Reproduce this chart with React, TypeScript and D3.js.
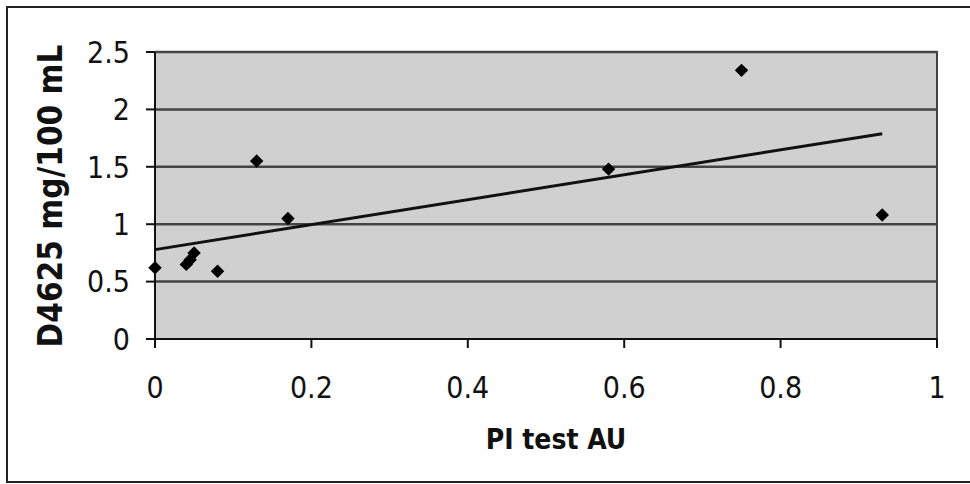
import React from "react";
import * as d3 from "d3";

const xValues = [0, 0.04, 0.045, 0.05, 0.08, 0.13, 0.17, 0.58, 0.75, 0.93];
const yValues = [0.62, 0.65, 0.69, 0.75, 0.59, 1.55, 1.05, 1.48, 2.34, 1.08];
const xTicks = [0, 0.2, 0.4, 0.6, 0.8, 1];
const yTicks = [0, 0.5, 1, 1.5, 2, 2.5];
const xTitle = "PI test AU";
const yTitle = "D4625 mg/100 mL";

const W = 970;
const H = 484;
const left = 155;
const right = 937;
const top = 52;
const bottom = 339;
const FONT = "'DejaVu Sans Condensed', 'DejaVu Sans', sans-serif";

export default function App() {
  const x = d3.scaleLinear().domain([0, 1]).range([left, right]);
  const y = d3.scaleLinear().domain([0, 2.5]).range([bottom, top]);

  const mx = d3.mean(xValues) as number;
  const my = d3.mean(yValues) as number;
  const sxy = d3.sum(xValues.map((v, i) => (v - mx) * (yValues[i] - my)));
  const sxx = d3.sum(xValues.map((v) => (v - mx) * (v - mx)));
  const slope = sxy / sxx;
  const intercept = my - slope * mx;
  const [x0, x1] = d3.extent(xValues) as [number, number];
  const line = d3.line<number>().x((d) => x(d)).y((d) => y(intercept + slope * d));
  const diamond = d3.symbol().type(d3.symbolDiamond2).size(115)();

  return (
    <svg width={W} height={H} style={{ position: "absolute", left: 0, top: 0 }}>
      <rect x={0} y={0} width={W} height={H} fill="#fff" />
      <rect x={7} y={7} width={W + 20} height={475} fill="none" stroke="#222" strokeWidth={2} />
      <rect x={left} y={top} width={right - left} height={bottom - top} fill="#d0d0d0" stroke="#444" strokeWidth={2} />
      {yTicks.slice(1).map((t) => (
        <line key={"g" + t} x1={left} x2={right} y1={y(t)} y2={y(t)} stroke="#444" strokeWidth={2.5} />
      ))}
      <line x1={left} x2={left} y1={top} y2={bottom + 9} stroke="#111" strokeWidth={2} />
      <line x1={left - 9} x2={right} y1={bottom} y2={bottom} stroke="#111" strokeWidth={2} />
      {yTicks.map((t) => (
        <g key={"y" + t}>
          <line x1={left - 9} x2={left} y1={y(t)} y2={y(t)} stroke="#111" strokeWidth={2} />
          <text x={130} y={y(t)} dy="0.36em" textAnchor="end" fontFamily={FONT} fontSize={30} fill="#111">
            {t}
          </text>
        </g>
      ))}
      {xTicks.map((t) => (
        <g key={"x" + t}>
          <line x1={x(t)} x2={x(t)} y1={bottom} y2={bottom + 9} stroke="#111" strokeWidth={2} />
          <text x={x(t)} y={387} dy="0.36em" textAnchor="middle" fontFamily={FONT} fontSize={30} fill="#111">
            {t}
          </text>
        </g>
      ))}
      <path d={line([x0, x1]) || ""} fill="none" stroke="#111" strokeWidth={3} />
      {xValues.map((v, i) => (
        <path key={"p" + i} d={diamond || ""} transform={`translate(${x(v)},${y(yValues[i])})`} fill="#000" />
      ))}
      <text x={556} y={439} dy="0.36em" textAnchor="middle" fontFamily={FONT} fontWeight="bold" fontSize={28} fill="#111">
        {xTitle}
      </text>
      <text
        transform={`translate(50,196) rotate(-90)`}
        dy="0.36em"
        textAnchor="middle"
        fontFamily={FONT}
        fontWeight="bold"
        fontSize={33}
        fill="#111"
      >
        {yTitle}
      </text>
    </svg>
  );
}
